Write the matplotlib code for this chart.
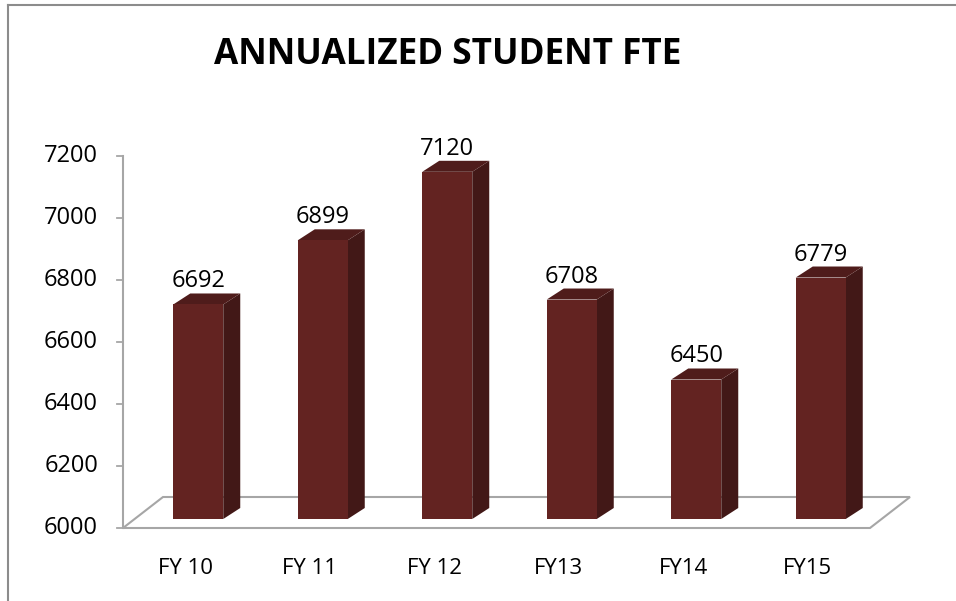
import matplotlib
matplotlib.use("Agg")
import matplotlib.pyplot as plt
from matplotlib.patches import Polygon
from matplotlib.lines import Line2D

plt.rcParams["font.family"] = ["Open Sans", "DejaVu Sans"]

categories = ["FY 10", "FY 11", "FY 12", "FY13", "FY14", "FY15"]
fte = [6692, 6899, 7120, 6708, 6450, 6779]
yticks = [6000, 6200, 6400, 6600, 6800, 7000, 7200]

FRONT, SIDE, TOP = "#632321", "#421817", "#4f1c1b"
GRID = "#a6a6a6"

W, H = 956, 601
fig = plt.figure(figsize=(W / 100, H / 100), dpi=100)
# plot area in pixels: x 123..870, y(6000)=528, y(7200)=156
ax = fig.add_axes([123 / W, (H - 528) / H, (870 - 123) / W, (528 - 156) / H])
ax.set_xlim(-0.5, len(categories) - 0.5)
ax.set_ylim(6000, 7200)
ax.axis("off")

# per-unit sizes (pixels): 1 category = 124.5 px, 1 value unit = 0.31 px
cx = 1 / 124.5
vy = 1 / 0.31

# floor parallelogram
fdx, fdy = 40 * cx, 31 * vy
x0, x1 = -0.5, len(categories) - 0.5
floor = Polygon([(x0, 6000), (x1, 6000), (x1 + fdx, 6000 + fdy), (x0 + fdx, 6000 + fdy)],
                closed=True, fill=False, edgecolor=GRID, lw=1.5, clip_on=False)
ax.add_patch(floor)

# y axis and ticks
ax.plot([x0, x0], [6000, 7200], color=GRID, lw=1.5, clip_on=False)
for t in yticks:
    ax.plot([x0 - 6 * cx, x0], [t, t], color=GRID, lw=1.3, clip_on=False)
    ax.text(x0 - 25 * cx, t, str(t), ha="right", va="center", fontsize=17, color="black")

# bars
bw = 50 * cx
ox, oy = 13 * cx, 9 * vy      # front face shift
ddx, ddy = 17 * cx, 11 * vy   # bar depth
for i, (lab, v) in enumerate(zip(categories, fte)):
    l = i + ox - bw / 2
    r = l + bw
    b = 6000 + oy
    t = v + oy
    ax.add_patch(Polygon([(r, b), (r + ddx, b + ddy), (r + ddx, t + ddy), (r, t)],
                         closed=True, facecolor=SIDE, edgecolor="none", clip_on=False))
    ax.add_patch(Polygon([(l, t), (r, t), (r + ddx, t + ddy), (l + ddx, t + ddy)],
                         closed=True, facecolor=TOP, edgecolor="none", clip_on=False))
    ax.add_patch(Polygon([(l, b), (r, b), (r, t), (l, t)],
                         closed=True, facecolor=FRONT, edgecolor="none", clip_on=False))
    ax.text(i + ox, t + 23 * vy, str(v), ha="center", va="center", fontsize=17,
            color="black", clip_on=False)
    ax.text(i, 6000 - 40 * vy, lab, ha="center", va="center", fontsize=16,
            color="black", clip_on=False)

fig.text(448 / W, 1 - 55 / H, "ANNUALIZED STUDENT FTE", ha="center", va="center",
         fontsize=25.3, fontweight="bold", color="black")

# outer chart border (only top and left edges are visible in the image)
fig.add_artist(Line2D([8 / W, 1], [1 - 5 / H, 1 - 5 / H], color="#8c8c8c", lw=1.5,
                      transform=fig.transFigure))
fig.add_artist(Line2D([8 / W, 8 / W], [1 - 5 / H, 0], color="#8c8c8c", lw=1.5,
                      transform=fig.transFigure))

fig.savefig("out.png", dpi=100, facecolor="white")
